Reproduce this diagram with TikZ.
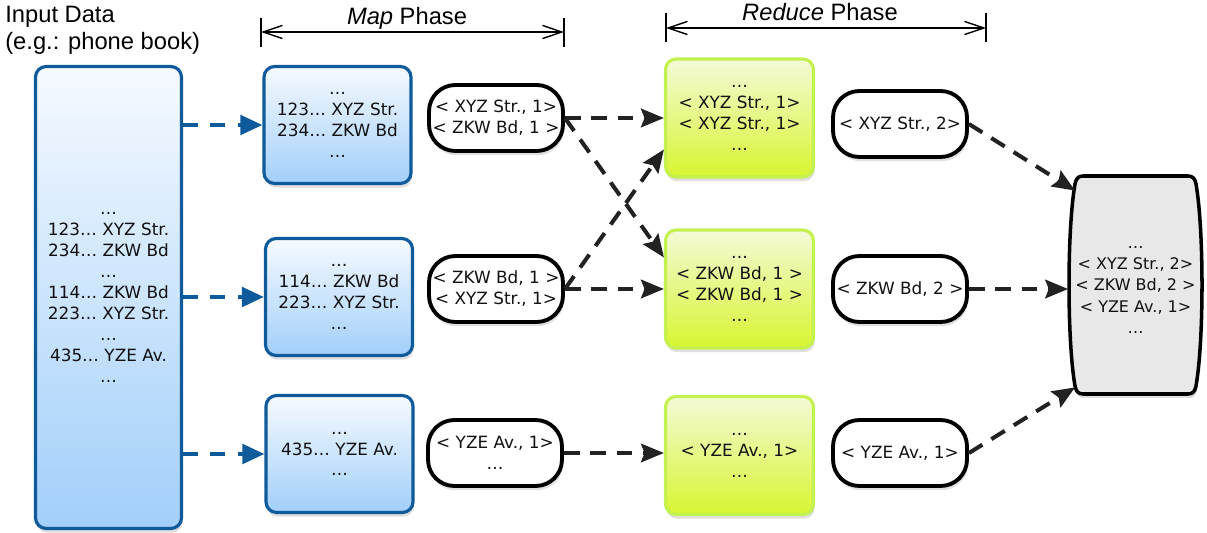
\documentclass[tikz,border=0pt]{standalone}
\usepackage{fontspec}
\setmainfont{DejaVu Sans}
\newfontfamily\titlefont{Liberation Sans}
\usetikzlibrary{arrows.meta,shadows,calc}
\definecolor{mapblue}{HTML}{0E5A9A}
\definecolor{maptop}{HTML}{F6FAFF}
\definecolor{mapbot}{HTML}{A2CFFA}
\definecolor{redborder}{HTML}{C4F150}
\definecolor{redtop}{HTML}{F4FAD8}
\definecolor{redbot}{HTML}{D8F530}
\definecolor{darkarrow}{HTML}{222222}
\definecolor{fingrey}{HTML}{E8E8E8}
\definecolor{txtcol}{HTML}{111111}
\begin{document}
\begin{tikzpicture}[x=0.02cm,y=-0.02cm,
  txt/.style={font=\fontsize{9.6}{11.9}\selectfont, text=txtcol, align=center, inner sep=0pt},
  shad/.style={drop shadow={shadow xshift=0.6pt, shadow yshift=-2.4pt, opacity=0.25}},
  mapbox/.style={txt, shad, draw=mapblue, line width=1.8pt, rounded corners=6pt,
    top color=maptop, bottom color=mapbot, minimum width=2.94cm, minimum height=2.34cm},
  redbox/.style={txt, shad, draw=redborder, line width=1.8pt, rounded corners=6pt,
    top color=redtop, bottom color=redbot, minimum width=2.96cm, minimum height=2.36cm},
  pill/.style={txt, shad, draw=black, fill=white, line width=2.2pt, rounded corners=15pt,
    minimum width=2.68cm, minimum height=1.32cm},
  blueflow/.style={draw=mapblue, line width=2.3pt, dash pattern=on 8.5pt off 7pt,
    -{Triangle[length=12.5pt,width=11pt]}},
  darkflow/.style={draw=darkarrow, line width=2.3pt, dash pattern=on 9pt off 6pt,
    -{Stealth[length=13pt,width=10.5pt,inset=2pt]}},
  dimline/.style={line width=0.8pt, black},
  dimarrow/.style={dimline, {Straight Barb[length=11pt,width=7.5pt]}-{Straight Barb[length=11pt,width=7.5pt]}},
  title/.style={font=\titlefont\fontsize{13.5}{15.2}\selectfont, text=black, inner sep=0pt}
]
\useasboundingbox (0,0) rectangle (1207,533);

% titles
\node[title, anchor=north west, align=left] (intitle) at (5,6) {Input Data\\(e.g.: phone book)};
\node[title, anchor=base] (maptitle) at (407,25) {\textit{Map} Phase};
\node[title, anchor=base] (redtitle) at (820,21) {\textit{Reduce} Phase};

% phase dimension lines
\coordinate (mL) at (261,32); \coordinate (mR) at (564,32);
\coordinate (rL) at (666,28); \coordinate (rR) at (986,28);
\draw[dimline] (261,18) -- (261,47);
\draw[dimline] (564,18) -- (564,47);
\draw[dimline] (666,13) -- (666,42);
\draw[dimline] (986,13) -- (986,42);
\draw[dimarrow] (mL) -- (mR);
\draw[dimarrow] (rL) -- (rR);

% input
\node[txt, shad, draw=mapblue, line width=1.8pt, rounded corners=6pt,
  top color=maptop, bottom color=mapbot, minimum width=2.92cm, minimum height=9.24cm]
  (inp) at (108.5,297.5)
  {…\\123… XYZ Str.\\234… ZKW Bd\\…\\114… ZKW Bd\\223… XYZ Str.\\…\\435… YZE Av.\\…};

% map boxes
\node[mapbox] (m1) at (337.5,125) {…\\123… XYZ Str.\\234… ZKW Bd\\…};
\node[mapbox] (m2) at (339,297) {…\\114… ZKW Bd\\223… XYZ Str.\\…};
\node[mapbox] (m3) at (339.5,454) {…\\435… YZE Av.\\…};

% map outputs
\node[pill] (k1) at (496,118) {< XYZ Str., 1>\\< ZKW Bd, 1 >};
\node[pill] (k2) at (496,289) {< ZKW Bd, 1 >\\< XYZ Str., 1>};
\node[pill] (k3) at (495,453) {< YZE Av., 1>\\…};

% reduce boxes
\node[redbox] (r1) at (739.5,118) {…\\< XYZ Str., 1>\\< XYZ Str., 1>\\…};
\node[redbox] (r2) at (739.5,289) {…\\< ZKW Bd, 1 >\\< ZKW Bd, 1 >\\…};
\node[redbox] (r3) at (739.5,455.5) {…\\< YZE Av., 1>\\…};

% reduce outputs
\node[pill] (q1) at (900,124) {< XYZ Str., 2>};
\node[pill] (q2) at (900,289) {< ZKW Bd, 2 >};
\node[pill] (q3) at (900,453) {< YZE Av., 1>};

% final result (barrel)
\draw[line width=2pt, fill=fingrey, shad]
  (1083,176) -- (1188,176)
  .. controls (1193,176) and (1195,179) .. (1196,184)
  .. controls (1204,230) and (1204,340) .. (1196,386)
  .. controls (1195,391) and (1193,394) .. (1188,394)
  -- (1083,394)
  .. controls (1078,394) and (1076,391) .. (1075,386)
  .. controls (1067,340) and (1067,230) .. (1075,184)
  .. controls (1076,179) and (1078,176) .. (1083,176) -- cycle;
\node[txt, minimum width=2.68cm, minimum height=4.36cm, font=\fontsize{9.1}{12}\selectfont] (fin) at (1135.5,290)
  {…\\< XYZ Str., 2>\\< ZKW Bd, 2 >\\< YZE Av., 1>\\…};

% input -> map
\draw[blueflow] (inp.east |- m1.west) -- (m1.west);
\draw[blueflow] (inp.east |- m2.west) -- (m2.west);
\draw[blueflow] (inp.east |- m3.west) -- (m3.west);

% shuffle
\draw[darkflow] (k1.east) -- (k1.east -| r1.west);
\draw[darkflow] (k1.east) -- ($(r2.north west)!0.24!(r2.south west)$);
\draw[darkflow] (k2.east) -- ($(r1.north west)!0.76!(r1.south west)$);
\draw[darkflow] (k2.east) -- (k2.east -| r2.west);
\draw[darkflow] (k3.east) -- (k3.east -| r3.west);

% reduce -> final
\draw[darkflow] (q1.east) -- ($(fin.north west)+(7,10)$);
\draw[darkflow] (q2.east) -- (fin.west |- q2.east);
\draw[darkflow] (q3.east) -- ($(fin.south west)+(7,-12)$);
\end{tikzpicture}
\end{document}
